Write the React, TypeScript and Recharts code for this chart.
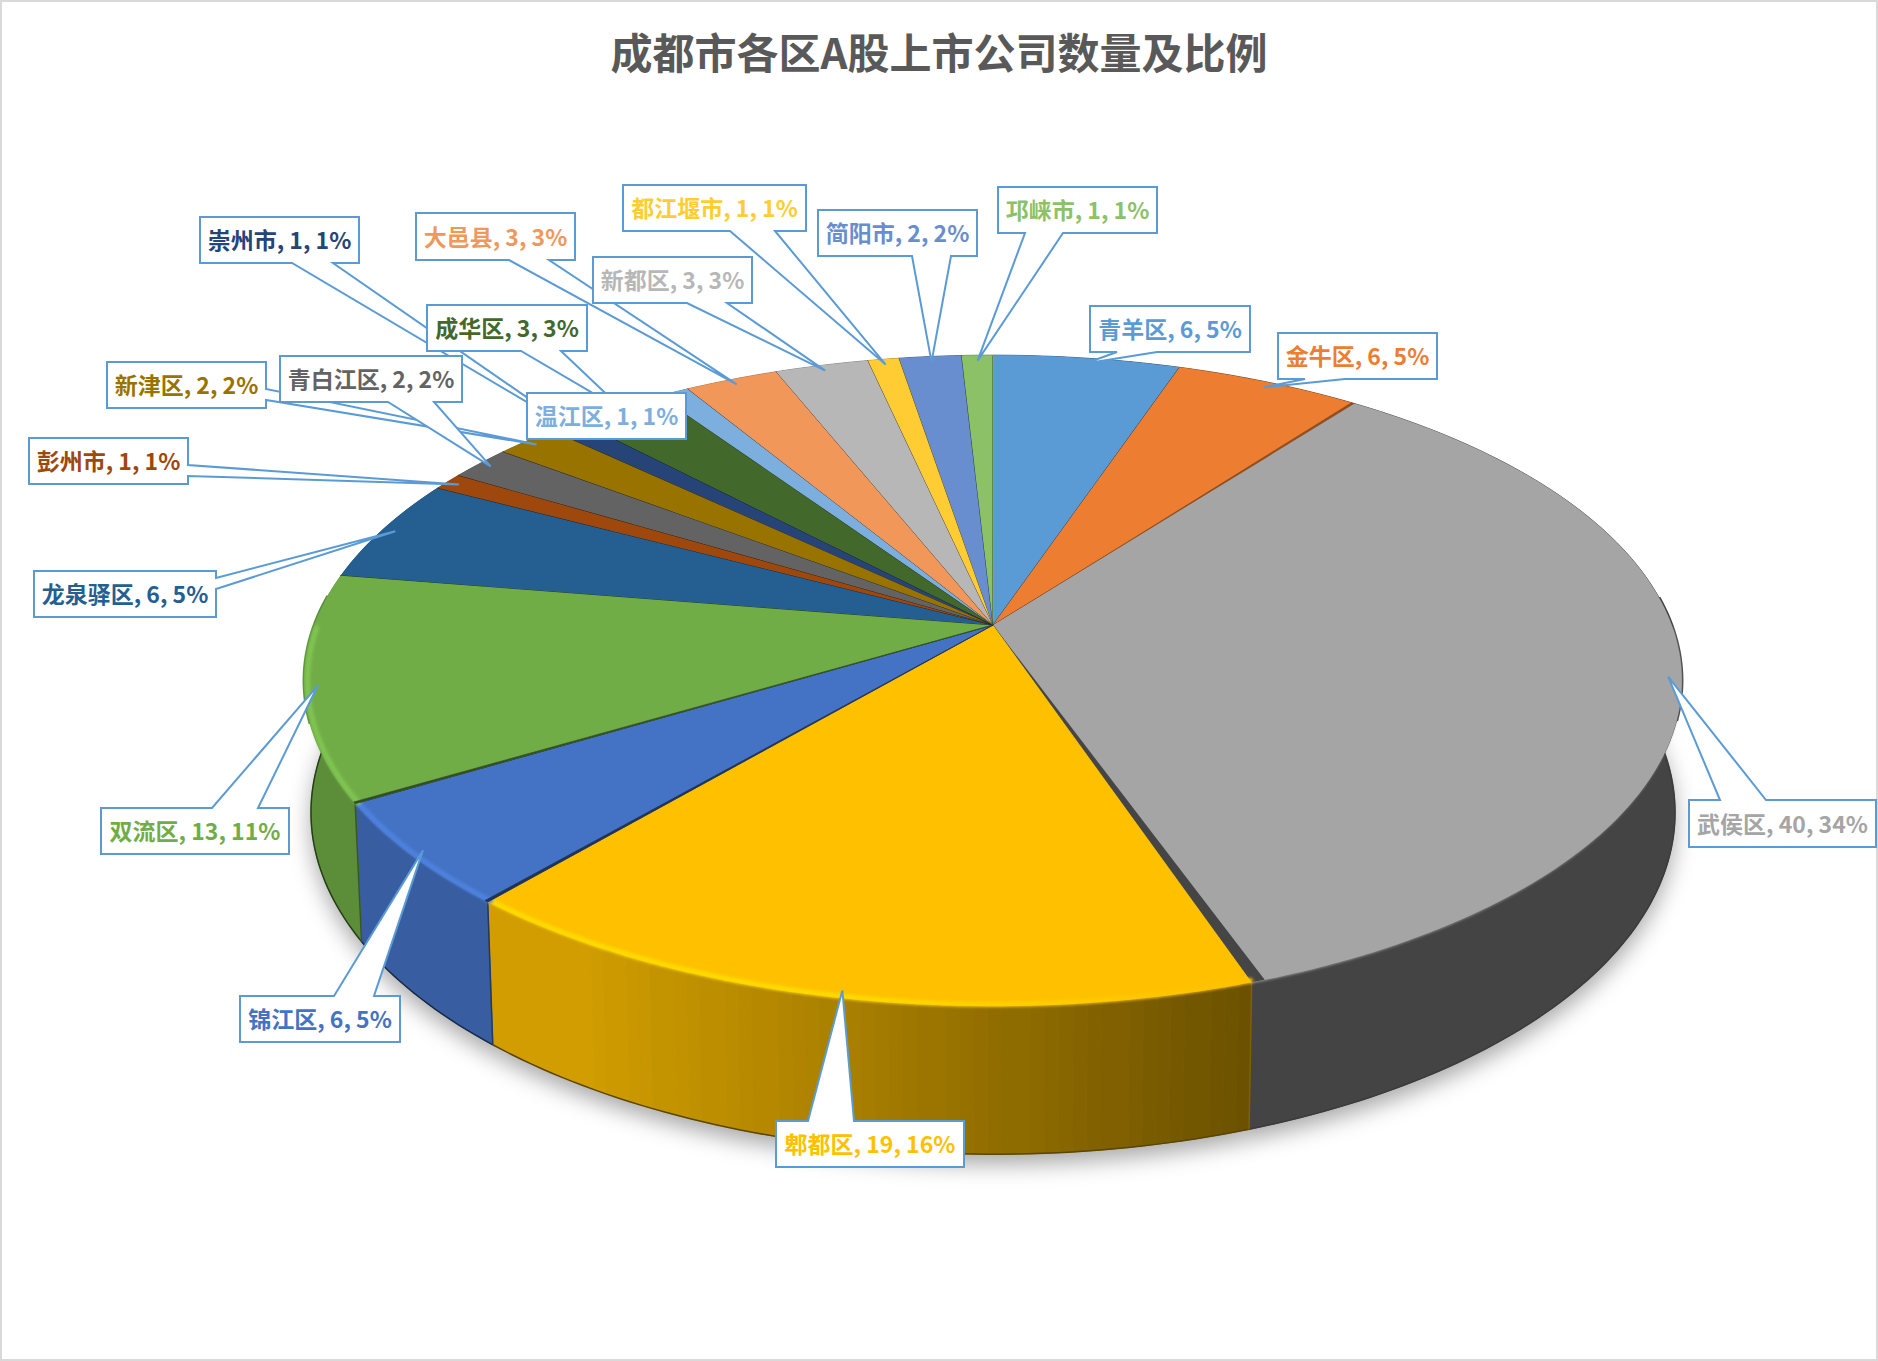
import { PieChart, Pie, Cell } from 'recharts'

const names = ['青羊区', '金牛区', '武侯区', '郫都区', '锦江区', '双流区', '龙泉驿区', '彭州市', '青白江区', '新津区', '崇州市', '成华区', '温江区', '大邑县', '新都区', '都江堰市', '简阳市', '邛崃市']
const counts = [6, 6, 40, 19, 6, 13, 6, 1, 2, 2, 1, 3, 1, 3, 3, 1, 2, 1]
const colors = ['#5B9BD5', '#ED7D31', '#A5A5A5', '#FFC000', '#4472C4', '#70AD47', '#255E91', '#9E480E', '#636363', '#997300', '#264478', '#43682B', '#7CAFDD', '#F1975A', '#B7B7B7', '#FFCD33', '#698ED0', '#8CC168']

const chartData = names.map((name, i) => ({ name, count: counts[i] }))

const FONT = '"Noto Sans CJK SC", sans-serif'
const WIDTH = 1878
const HEIGHT = 1361

// callout boxes: side = edge the pointer leaves from, a/b = where on that edge
const callouts: Record<string, { x: number; y: number; w: number; h: number; side: string; a: number; b: number }> = {
  青羊区: { x: 1090, y: 306, w: 160, h: 46, side: 'b', a: 1117, b: 1157 },
  金牛区: { x: 1278, y: 333, w: 159, h: 46, side: 'b', a: 1305, b: 1345 },
  武侯区: { x: 1689, y: 800, w: 187, h: 47, side: 't', a: 1720, b: 1766 },
  郫都区: { x: 776, y: 1121, w: 188, h: 46, side: 't', a: 808, b: 854 },
  锦江区: { x: 240, y: 996, w: 160, h: 46, side: 't', a: 334, b: 374 },
  双流区: { x: 101, y: 808, w: 188, h: 46, side: 't', a: 212, b: 258 },
  龙泉驿区: { x: 34, y: 571, w: 182, h: 46, side: 'r', a: 578, b: 589 },
  彭州市: { x: 29, y: 438, w: 159, h: 46, side: 'r', a: 465, b: 476 },
  青白江区: { x: 280, y: 356, w: 182, h: 46, side: 'b', a: 388, b: 434 },
  新津区: { x: 107, y: 362, w: 159, h: 46, side: 'r', a: 389, b: 400 },
  崇州市: { x: 200, y: 217, w: 159, h: 46, side: 'b', a: 292, b: 333 },
  成华区: { x: 427, y: 305, w: 160, h: 46, side: 'b', a: 521, b: 561 },
  温江区: { x: 527, y: 393, w: 159, h: 46, side: 'n', a: 0, b: 0 },
  大邑县: { x: 416, y: 213, w: 159, h: 47, side: 'b', a: 509, b: 549 },
  新都区: { x: 593, y: 257, w: 159, h: 46, side: 'b', a: 687, b: 727 },
  都江堰市: { x: 623, y: 185, w: 183, h: 46, side: 'b', a: 730, b: 775 },
  简阳市: { x: 818, y: 210, w: 159, h: 46, side: 'b', a: 912, b: 951 },
  邛崃市: { x: 998, y: 187, w: 159, h: 46, side: 'b', a: 1025, b: 1063 },
}

// 新津区's pointer runs behind this box, so it is drawn in a later pass
const raisedLabels = ['青白江区']

// perspective of the tilted disc
const TILT = 0.171
const STRETCH = 2.148
const DEPTH = 129

const project = (cx: number, cy: number, r: number, deg: number, scale = 1) => {
  const a = (deg * Math.PI) / 180
  const u = Math.cos(a)
  const v = -Math.sin(a)
  const d = 1 - TILT * v
  return { x: cx + (r * STRETCH * scale * u) / d, y: cy + (r * scale * v) / d }
}

const projectBottom = (cx: number, cy: number, r: number, deg: number) => {
  const p = project(cx, cy, r, deg)
  return { x: cx + (p.x - cx) * 0.99, y: cy + (p.y - cy) * 1.05 + DEPTH }
}

const arcAngles = (start: number, end: number) => {
  const out: number[] = []
  const n = Math.max(1, Math.ceil(Math.abs(start - end)))
  for (let i = 0; i <= n; i++) out.push(start + ((end - start) * i) / n)
  return out
}

const tone = (hex: string, f: number) => {
  const c = [1, 3, 5].map((i) => Math.min(255, Math.round(parseInt(hex.slice(i, i + 2), 16) * f)))
  return `rgb(${c[0]},${c[1]},${c[2]})`
}

const clamp = (n: number, lo: number, hi: number) => Math.max(lo, Math.min(hi, n))

function ShadowSlice({ cx, cy, outerRadius, startAngle, endAngle }: any) {
  const pts = arcAngles(startAngle, endAngle).map((d) => projectBottom(cx, cy, outerRadius, d))
  const path = `M${cx},${cy + DEPTH + 10}` + pts.map((p) => `L${p.x},${p.y + 10}`).join('') + 'Z'
  return <path d={path} fill="#000" fillOpacity={0.34} filter="url(#shadowBlur)" />
}

function SideSlice({ cx, cy, outerRadius, startAngle, endAngle, fill }: any) {
  const angles = arcAngles(startAngle, endAngle)
  const top = angles.map((d) => project(cx, cy, outerRadius, d))
  const low = angles.map((d) => projectBottom(cx, cy, outerRadius, d))
  const shadeAt = (x: number) => {
    const s = clamp(0.82 - ((x - cx + 420) * 0.4) / 670, 0.41, 0.82)
    return Math.round(s * 100) / 100
  }

  // neighbouring samples of the same shade become one band
  const bands: { shade: number; from: number; to: number }[] = []
  top.forEach((p, i) => {
    if (i === 0) return
    const shade = shadeAt(p.x)
    const last = bands[bands.length - 1]
    if (last && last.shade === shade) last.to = i
    else bands.push({ shade, from: i - 1, to: i })
  })

  const edge = angles
    .map((d, i) => ({ d, p: top[i] }))
    .filter(({ d }) => {
      const s = Math.sin((d * Math.PI) / 180)
      return Math.abs(Math.cos((d * Math.PI) / 180)) > 0.3 && s > -0.3 && s < 0.1
    })

  return (
    <g>
      {bands.map((b, i) => {
        const col = tone(fill, b.shade)
        const upper = top.slice(b.from, b.to + 1).map((p) => `${p.x},${p.y}`)
        const lower = low.slice(b.from, b.to + 1).reverse().map((p) => `${p.x},${p.y}`)
        return <path key={i} d={`M${upper.join('L')}L${lower.join('L')}Z`} fill={col} stroke={col} strokeWidth={0.8} />
      })}
      {edge.length > 1 && (
        <path
          d={'M' + edge.map(({ p }) => `${p.x},${p.y}`).join('L')}
          fill="none"
          stroke={tone(fill, shadeAt(edge[0].p.x))}
          strokeWidth={3}
        />
      )}
      <path d={'M' + low.map((p) => `${p.x},${p.y}`).join('L')} fill="none" stroke={tone(fill, 0.36)} strokeWidth={1.5} />
      <path d={`M${top[0].x},${top[0].y}L${low[0].x},${low[0].y}`} stroke={tone(fill, 0.5)} strokeWidth={1.5} />
    </g>
  )
}

function TopSlice({ cx, cy, outerRadius, startAngle, endAngle, fill }: any) {
  const angles = arcAngles(startAngle, endAngle)
  const pts = angles.map((d) => project(cx, cy, outerRadius, d))
  const path = `M${cx},${cy}` + pts.map((p) => `L${p.x},${p.y}`).join('') + 'Z'
  const cwStart = 90 - startAngle
  const cwEnd = 90 - endAngle
  const endRim = pts[pts.length - 1]

  // the wall of the neighbouring cut shows as a thin wedge
  let wall = null
  if (cwEnd > 30 && cwEnd < 180) {
    const w = 3 + (5 * (cwEnd - 37)) / 124
    const q = project(cx, cy, outerRadius, endAngle + w / 8)
    wall = <path d={`M${cx},${cy}L${endRim.x},${endRim.y}L${q.x},${q.y}Z`} fill={tone(fill, cwEnd > 100 ? 0.42 : 0.62)} />
  } else if (cwStart > 200 && cwStart < 250) {
    const q = project(cx, cy, outerRadius, startAngle - 0.3)
    wall = <path d={`M${cx},${cy}L${pts[0].x},${pts[0].y}L${q.x},${q.y}Z`} fill={tone(fill, 0.45)} stroke={tone(fill, 0.45)} strokeWidth={0.6} />
  }

  // soft bevel along the front rim
  const rim = angles
    .map((d) => ({ d, p: project(cx, cy, outerRadius, d, 0.995) }))
    .filter(({ d }) => Math.sin((d * Math.PI) / 180) < 0)
  return (
    <g>
      <path d={path} fill={fill} />
      <g filter="url(#rimBlur)">
        {rim.slice(1).map(({ d, p }, i) => {
          const u = Math.cos((d * Math.PI) / 180)
          const f = 1 + 0.14 * clamp((0.3 - u) / 0.5, 0, 1)
          return (
            <path
              key={i}
              d={`M${rim[i].p.x},${rim[i].p.y}L${p.x},${p.y}`}
              stroke={tone(fill, f)}
              strokeWidth={5}
              strokeLinecap="round"
            />
          )
        })}
      </g>
      <path d={`M${cx},${cy}L${endRim.x},${endRim.y}`} stroke={tone(fill, 0.4)} strokeWidth={1} />
      {cwStart < 0.01 && <path d={`M${cx},${cy}L${pts[0].x},${pts[0].y}`} stroke="#fff" strokeWidth={1.5} />}
      {wall}
    </g>
  )
}

function Callout({ cx, cy, outerRadius, midAngle, name, value, percent, color }: any) {
  const box = callouts[name]
  const tip = project(cx, cy, outerRadius, midAngle, 0.98)
  const { x, y, w, h } = box
  let d = `M${x},${y}H${x + w}V${y + h}H${x}Z`
  if (box.side === 'b') d = `M${x},${y}H${x + w}V${y + h}H${box.b}L${tip.x},${tip.y}L${box.a},${y + h}H${x}Z`
  if (box.side === 't') d = `M${x},${y}H${box.a}L${tip.x},${tip.y}L${box.b},${y}H${x + w}V${y + h}H${x}Z`
  if (box.side === 'r') d = `M${x},${y}H${x + w}V${box.a}L${tip.x},${tip.y}L${x + w},${box.b}V${y + h}H${x}Z`
  return (
    <g>
      <path d={d} fill="#fff" stroke="#5B9BD5" strokeWidth={2} />
      <text
        x={x + w / 2}
        y={y + h / 2 - 1}
        textAnchor="middle"
        dominantBaseline="central"
        fontFamily={FONT}
        fontWeight={700}
        fontSize={23}
        fill={color}
      >
        {`${name}, ${value}, ${Math.round(percent * 100)}%`}
      </text>
    </g>
  )
}

export default function App() {
  const labelFor = (raised: boolean) => (props: any) => {
    if (raisedLabels.includes(props.name) !== raised) return null
    return <Callout {...props} color={colors[names.indexOf(props.name)]} />
  }
  const pieProps = {
    data: chartData,
    dataKey: 'count',
    nameKey: 'name',
    cx: 993,
    cy: 625,
    outerRadius: 316,
    startAngle: 90,
    endAngle: -270,
    stroke: 'none',
    isAnimationActive: false,
    labelLine: false,
  }
  const cells = colors.map((c, i) => <Cell key={`cell-${i}`} fill={c} />)

  return (
    <div style={{ position: 'absolute', left: 0, top: 0, width: WIDTH, height: HEIGHT, background: '#fff', overflow: 'hidden' }}>
      <PieChart width={WIDTH} height={HEIGHT} margin={{ top: 0, right: 0, bottom: 0, left: 0 }}>
        <defs>
          <filter id="shadowBlur" filterUnits="userSpaceOnUse" x={0} y={0} width={WIDTH} height={HEIGHT}>
            <feGaussianBlur stdDeviation={11} />
          </filter>
          <filter id="rimBlur" filterUnits="userSpaceOnUse" x={0} y={0} width={WIDTH} height={HEIGHT}>
            <feGaussianBlur stdDeviation={1.6} />
          </filter>
        </defs>
        <rect x={1} y={1} width={WIDTH - 2} height={HEIGHT - 2} fill="#fff" stroke="#D9D9D9" strokeWidth={2} />
        <text
          x={939}
          y={50}
          textAnchor="middle"
          dominantBaseline="central"
          fontFamily={FONT}
          fontWeight={700}
          fontSize={42}
          fill="#595959"
        >
          成都市各区A股上市公司数量及比例
        </text>
        <Pie {...pieProps} shape={ShadowSlice}>{cells}</Pie>
        <Pie {...pieProps} shape={SideSlice}>{cells}</Pie>
        <Pie {...pieProps} shape={TopSlice} label={labelFor(false)}>{cells}</Pie>
        <Pie {...pieProps} shape={() => <g />} label={labelFor(true)}>{cells}</Pie>
      </PieChart>
    </div>
  )
}
